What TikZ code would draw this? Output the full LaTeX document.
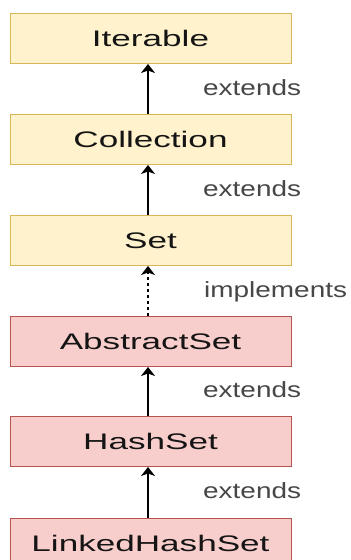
\documentclass[tikz,border=0pt]{standalone}
\usepackage{fontspec}
\setmainfont{Liberation Sans}
\usepackage{graphicx}
\usetikzlibrary{arrows.meta}
\definecolor{yfill}{HTML}{FFF2CC}
\definecolor{ydraw}{HTML}{D6B656}
\definecolor{rfill}{HTML}{F8CECC}
\definecolor{rdraw}{HTML}{B85450}
\definecolor{lbl}{HTML}{474747}
\definecolor{txt}{HTML}{151515}
\newcommand{\bt}[1]{\scalebox{1.56}[1]{#1}}
\newcommand{\lt}[1]{\scalebox{1.27}[1]{#1}}
\begin{document}
\begin{tikzpicture}[x=1pt,y=-1pt,
  cls/.style={draw, line width=1pt, minimum width=281pt, minimum height=50pt, inner sep=0pt,
    text height=16pt, text depth=0pt, font=\fontsize{22.5}{22.5}\selectfont, text=txt},
  iface/.style={cls, fill=yfill, draw=ydraw},
  impl/.style={cls, fill=rfill, draw=rdraw},
  lab/.style={anchor=base west, inner sep=0pt, font=\fontsize{22}{22}\selectfont, text=lbl},
  rel/.style={-{Stealth[length=9pt,width=14pt,inset=2.5pt]}, line width=1.6pt, black},
  realize/.style={rel, dash pattern=on 3pt off 3pt}]
\useasboundingbox (0,0) rectangle (351,560);
\fill[white] (0,0) rectangle (351,560);
\clip (0,0) rectangle (351,560);

\node[iface] (iter) at (150.5,38.5) {\bt{Iterable}};
\node[iface] (coll) at (150.5,139.5) {\bt{Collection}};
\node[iface] (set)  at (150.5,240.5) {\bt{Set}};
\node[impl]  (abs)  at (150.5,341.5) {\bt{AbstractSet}};
\node[impl]  (hash) at (150.5,441.5) {\bt{HashSet}};
\node[impl]  (lhs)  at (150.5,543) {\bt{LinkedHashSet}};

\draw[rel] ([xshift=-2.5pt]coll.north) -- ([xshift=-2.5pt]iter.south);
\draw[rel] ([xshift=-2.5pt]set.north) -- ([xshift=-2.5pt]coll.south);
\draw[realize] ([xshift=-2.5pt]abs.north) -- ([xshift=-2.5pt]set.south);
\draw[rel] ([xshift=-2.5pt]hash.north) -- ([xshift=-2.5pt]abs.south);
\draw[rel] ([xshift=-2.5pt]lhs.north) -- ([xshift=-2.5pt]hash.south);

\node[lab] (l1) at (203,95) {\lt{extends}};
\node[lab] (l2) at (203,196) {\lt{extends}};
\node[lab] (l3) at (204,297.5) {\lt{implements}};
\node[lab] (l4) at (203,397.5) {\lt{extends}};
\node[lab] (l5) at (203,498.5) {\lt{extends}};
\end{tikzpicture}
\end{document}
